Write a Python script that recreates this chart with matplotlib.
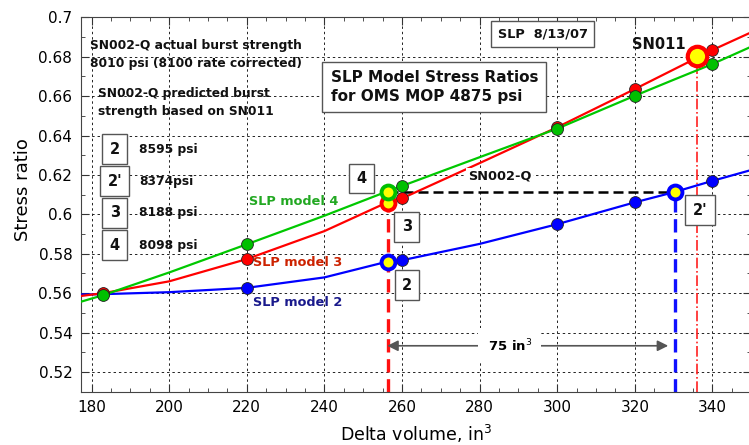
import numpy as np
import matplotlib
matplotlib.use('Agg')
import matplotlib.pyplot as plt
from matplotlib.ticker import MultipleLocator, FuncFormatter

plt.rcParams['font.family'] = ['DejaVu Sans']

# curves
curve_x = [177, 183, 200, 220, 240, 256, 260, 280, 300, 320, 330, 340, 350]
model4_curve = [0.5555, 0.5590, 0.5705, 0.5848, 0.5993, 0.6115, 0.6144, 0.6290, 0.6435, 0.6602, 0.6683, 0.6763, 0.6851]
model3_curve = [0.5585, 0.5600, 0.5660, 0.5773, 0.5915, 0.6059, 0.6081, 0.6260, 0.6442, 0.6636, 0.6735, 0.6834, 0.6924]
model2_curve = [0.5593, 0.5595, 0.5605, 0.5627, 0.5680, 0.5759, 0.5767, 0.5850, 0.5950, 0.6061, 0.6112, 0.6170, 0.6225]

# measured points
pts_x = [183, 220, 260, 300, 320, 340]
model4_pts = [0.5590, 0.5848, 0.6144, 0.6432, 0.6602, 0.6763]
model3_pts = [0.5600, 0.5773, 0.6081, 0.6442, 0.6636, 0.6834]
model2_pts = [0.5597, 0.5627, 0.5767, 0.5950, 0.6061, 0.6170]

# predicted burst points for SN002-Q
pred_x = 256.3
pred4_y = 0.6115
pred3_y = 0.6059
pred2_y = 0.5759
pred2p_x = 330.3
pred2p_y = 0.6112
sn011_x = 336.0
sn011_y = 0.6804

box_labels = ['2', "2'", '3', '4']
psi_labels = ['8595 psi', '8374psi', '8188 psi', '8098 psi']
box_y = [0.6331, 0.6169, 0.6008, 0.5844]

fig = plt.figure(figsize=(7.49, 4.45), dpi=100)
ax = fig.add_axes([0.1077, 0.1198, 0.8953, 0.8413])

ax.set_xlim(177.2, 350)
ax.set_ylim(0.51, 0.70)
ax.xaxis.set_major_locator(MultipleLocator(20))
ax.xaxis.set_minor_locator(MultipleLocator(5))
ax.yaxis.set_major_locator(MultipleLocator(0.02))
ax.yaxis.set_minor_locator(MultipleLocator(0.01))
ax.yaxis.set_major_formatter(FuncFormatter(lambda v, p: '%g' % round(v, 3)))
ax.tick_params(which='both', direction='in', top=True, right=True, colors='#333333', labelcolor='black')
ax.tick_params(which='major', length=6, labelsize=11, pad=6)
ax.tick_params(which='minor', length=3)
for s in ax.spines.values():
    s.set_color('#444444')
ax.grid(True, which='major', color='#222222', linestyle=(0, (2.5, 3)), linewidth=0.7)

# vertical / horizontal guide lines
ax.plot([pred_x, pred_x], [0.51, pred3_y], color='#ff1010', lw=2.4, linestyle=(0, (4, 2)), zorder=2)
ax.plot([pred2p_x, pred2p_x], [0.51, pred2p_y], color='#1010ff', lw=2.4, linestyle=(0, (4, 2)), zorder=2)
ax.plot([sn011_x, sn011_x], [0.51, sn011_y], color='#ff2020', lw=1.2, linestyle='-.', zorder=2)
ax.plot([pred_x, pred2p_x], [pred4_y - 0.0003, pred2p_y], color='black', lw=1.8, linestyle=(0, (4, 2)), zorder=2)

# curves
ax.plot(curve_x, model2_curve, color='#0000ff', lw=1.6, zorder=3)
ax.plot(curve_x, model3_curve, color='#ff0000', lw=1.6, zorder=3)
ax.plot(curve_x, model4_curve, color='#00c800', lw=1.6, zorder=3)

mk = dict(marker='o', linestyle='none', markersize=8.5, markeredgecolor='#222222', markeredgewidth=0.6, zorder=5)
ax.plot(pts_x, model2_pts, markerfacecolor='#0000ff', **mk)
ax.plot(pts_x, model3_pts, markerfacecolor='#ff0000', **mk)
ax.plot(pts_x, model4_pts, markerfacecolor='#00c000', **mk)

ymk = dict(marker='o', linestyle='none', markersize=10, markerfacecolor='#ffff00', markeredgewidth=2.8, zorder=6)
ax.plot([pred_x], [pred2_y], markeredgecolor='#0000ff', **ymk)
ax.plot([pred2p_x], [pred2p_y], markeredgecolor='#0000ff', **ymk)
ax.plot([pred_x], [pred3_y], markeredgecolor='#ff0000', **ymk)
ax.plot([pred_x], [pred4_y], markeredgecolor='#00c000', **ymk)
ax.plot([sn011_x], [sn011_y], marker='o', linestyle='none', markersize=14, markerfacecolor='#ffff00',
        markeredgecolor='#ff0000', markeredgewidth=3, zorder=6)

# 75 in^3 arrow
ax.annotate('', xy=(256.2, 0.5333), xytext=(328.6, 0.5333),
            arrowprops=dict(arrowstyle='<|-|>', color='#555555', lw=1.2, mutation_scale=16,
                            shrinkA=0, shrinkB=0), zorder=4)
ax.text(287.8, 0.5333, '75 in$^3$', ha='center', va='center', fontsize=9.5, fontweight='bold',
        bbox=dict(boxstyle='square,pad=0.7', fc='white', ec='none'), zorder=5)

# texts
bold = dict(fontweight='bold', color='#111111')
ax.text(179.7, 0.6856, 'SN002-Q actual burst strength', ha='left', va='center', fontsize=8.8, **bold)
ax.text(179.7, 0.6767, '8010 psi (8100 rate corrected)', ha='left', va='center', fontsize=8.8, **bold)
ax.text(181.6, 0.6611, 'SN002-Q predicted burst', ha='left', va='center', fontsize=8.8, **bold)
ax.text(181.6, 0.6524, 'strength based on SN011', ha='left', va='center', fontsize=8.8, **bold)

boxp = dict(boxstyle='square,pad=0.5', fc='white', ec='#555555', lw=1)
for lab, psi, yy in zip(box_labels, psi_labels, box_y):
    ax.text(186.0, yy, lab, ha='center', va='center', fontsize=10.5, bbox=boxp, zorder=7, **bold)
    ax.text(192.3, yy, psi, ha='left', va='center', fontsize=8.8, zorder=7, **bold)

ax.text(249.6, 0.6183, '4', ha='center', va='center', fontsize=10.5, bbox=boxp, zorder=7, **bold)
ax.text(261.2, 0.5937, '3', ha='center', va='center', fontsize=10.5, bbox=boxp, zorder=7, **bold)
ax.text(261.3, 0.5641, '2', ha='center', va='center', fontsize=10.5, bbox=boxp, zorder=7, **bold)
ax.text(336.8, 0.6022, "2'", ha='center', va='center', fontsize=10.5, bbox=boxp, zorder=7, **bold)

ax.text(241.6, 0.6646, 'SLP Model Stress Ratios\nfor OMS MOP 4875 psi', ha='left', va='center',
        fontsize=11, linespacing=1.3, zorder=7,
        bbox=dict(boxstyle='square,pad=0.55', fc='white', ec='#555555', lw=1), **bold)
ax.text(296.3, 0.6914, 'SLP  8/13/07', ha='center', va='center', fontsize=9.3, zorder=7,
        bbox=dict(boxstyle='square,pad=0.5', fc='white', ec='#555555', lw=1), **bold)
ax.text(326.2, 0.6864, 'SN011', ha='center', va='center', fontsize=10.5, zorder=7, **bold)
ax.text(285.2, 0.6194, 'SN002-Q', ha='center', va='center', fontsize=9.3, zorder=7,
        bbox=dict(boxstyle='square,pad=0.15', fc='white', ec='none'), **bold)

ax.text(220.6, 0.6064, 'SLP model 4', ha='left', va='center', fontsize=9.3, fontweight='bold', color='#22a822', zorder=7)
ax.text(221.6, 0.5754, 'SLP model 3', ha='left', va='center', fontsize=9.3, fontweight='bold', color='#cc2200', zorder=7)
ax.text(221.6, 0.5551, 'SLP model 2', ha='left', va='center', fontsize=9.3, fontweight='bold', color='#1a1a8c', zorder=7)

ax.set_xlabel('Delta volume, in$^3$', fontsize=12.5, labelpad=6)
ax.set_ylabel('Stress ratio', fontsize=13)
ax.yaxis.set_label_coords(-0.072, 0.54)

fig.savefig('out.png', dpi=100)
